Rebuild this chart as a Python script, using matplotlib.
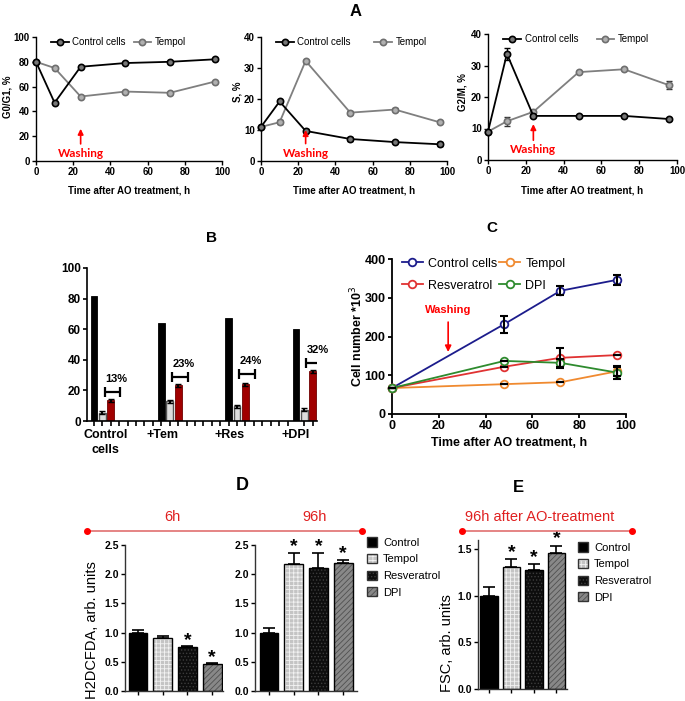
import numpy as np
import matplotlib
matplotlib.use("Agg")
import matplotlib.pyplot as plt
from matplotlib.patches import Patch

plt.rcParams['font.family'] = ['Liberation Sans', 'DejaVu Sans']
plt.rcParams['hatch.linewidth'] = 0.6

# ---------------- data ----------------
# A - cell cycle phases
t_a = [0, 10, 24, 48, 72, 96]
g1_ctrl = [80, 47, 76, 79, 80, 82]
g1_temp = [80, 75, 52, 56, 55, 64]
s_ctrl = [11, 19.2, 9.7, 7.1, 6.1, 5.4]
s_ctrl_err = [0, 0.5, 0.5, 0.7, 0.3, 0.6]
s_temp = [11, 12.5, 32.3, 15.6, 16.6, 12.5]
s_temp_err = [0, 0.6, 0.4, 0.4, 0.6, 0.3]
g2_ctrl = [9, 33.7, 14, 14, 14, 13]
g2_ctrl_err = [0, 1.8, 0.5, 0.3, 0.3, 0.3]
g2_temp = [9, 12.3, 15.3, 27.9, 28.8, 23.7]
g2_temp_err = [0, 1.5, 0.3, 0.3, 0.3, 1.3]

# B - bars per group
b_groups = ['Control\ncells', '+Tem', '+Res', '+DPI']
b_black = [82, 64, 67.5, 60]
b_gray = [5.5, 13, 9.5, 7.5]
b_red = [13.5, 23.5, 24, 32.5]
b_pct = ['13%', '23%', '24%', '32%']
b_bracket = [19, 29, 31, 38]

# C - cell number
t_c = [0, 48, 72, 96]
c_ctrl = [67, 232, 318, 346]
c_ctrl_err = [0, 22, 12, 12]
c_temp = [67, 77, 82, 110]
c_temp_err = [0, 0, 0, 12]
c_resv = [67, 122, 145, 152]
c_resv_err = [0, 0, 26, 0]
c_dpi = [67, 137, 132, 107]
c_dpi_err = [0, 0, 11, 17]

# D / E
treat = ['Control', 'Tempol', 'Resveratrol', 'DPI']
d6 = [1.0, 0.91, 0.76, 0.46]
d6_err = [0.04, 0.04, 0.01, 0.02]
d6_star = [False, False, True, True]
d96 = [1.0, 2.17, 2.1, 2.19]
d96_err = [0.08, 0.2, 0.27, 0.06]
d96_star = [False, True, True, True]
e96 = [1.0, 1.31, 1.28, 1.46]
e96_err = [0.1, 0.09, 0.06, 0.08]
e96_star = [False, True, True, True]

W, H = 685, 701
fig = plt.figure(figsize=(W / 100, H / 100), dpi=100)


def add_ax(l, t, r, b):
    return fig.add_axes([l / W, 1 - b / H, (r - l) / W, (b - t) / H])


def style(ax, size, lw=1.0):
    for s in ['top', 'right']:
        ax.spines[s].set_visible(False)
    for s in ['left', 'bottom']:
        ax.spines[s].set_linewidth(lw)
    ax.tick_params(labelsize=size, width=lw, length=3, pad=1.5)
    for lb in ax.get_xticklabels() + ax.get_yticklabels():
        lb.set_fontweight('bold')


# ================= A =================
a_specs = [
    ((36, 37, 222, 161), g1_ctrl, [0] * 6, g1_temp, [0] * 6, 100, 'G0/G1, %', (-0.129, 0.516), 0.8, 26, 6),
    ((261, 37, 447, 161), s_ctrl, s_ctrl_err, s_temp, s_temp_err, 40, 'S, %', (-0.102, 0.56), 2.4, 10, 2.5),
    ((488, 34, 677, 160), g2_ctrl, g2_ctrl_err, g2_temp, g2_temp_err, 40, 'G2/M, %', (-0.111, 0.54), 1.9, 11.4, 3.2),
]
for box, yc, yce, yt, yte, ymax, ylab, lc, cs, head, txt in a_specs:
    ax = add_ax(*box)
    ax.errorbar(t_a, yc, yerr=yce, fmt='none', capsize=2.5, ecolor='black', elinewidth=1,
                clip_on=False, zorder=2.5)
    ax.errorbar(t_a, yt, yerr=yte, fmt='none', capsize=2.5, ecolor='#333333', elinewidth=1,
                clip_on=False, zorder=2)
    ax.plot(t_a, yc, color='black', lw=1.3, marker='o', ms=4.5, mfc='#777777', mec='black',
            mew=1.2, clip_on=False, label='Control cells', zorder=3)
    ax.plot(t_a, yt, color='#7f7f7f', lw=1.3, marker='o', ms=4.5, mfc='#b0b0b0', mec='#6f6f6f',
            mew=1.2, clip_on=False, label='Tempol', zorder=2)
    ax.set_xlim(0, 100)
    ax.set_ylim(0, ymax)
    ax.set_xticks(range(0, 101, 20))
    ax.set_yticks(np.arange(0, ymax + 1, ymax / 5 if ymax == 100 else 10))
    style(ax, 7)
    ax.set_xlabel('Time after AO treatment, h', fontsize=7, fontweight='bold')
    ax.xaxis.set_label_coords(0.5, -0.2)
    ax.set_ylabel(ylab, fontsize=7, fontweight='bold')
    ax.yaxis.set_label_coords(*lc)
    ax.annotate('Washing', xy=(24, head), xytext=(24, txt), ha='center', va='center',
                color='red', fontsize=8.5, fontweight='bold', family='Lato',
                arrowprops=dict(arrowstyle='-|>', color='red', lw=1.2, shrinkA=1, shrinkB=0,
                                mutation_scale=8))
    ax.legend(loc='upper left', bbox_to_anchor=(0.06, 1.03), ncol=2, frameon=False, fontsize=7,
              handlelength=1.8, columnspacing=cs, handletextpad=0.4, borderaxespad=0)

# ================= B =================
axB = add_ax(87, 268, 317, 421)
gpos = np.arange(len(b_groups)) * 8
axB.bar(gpos, b_black, width=0.8, color='black', edgecolor='black', lw=0.6)
axB.bar(gpos + 1, b_gray, width=0.8, color='#dcdcdc', edgecolor='#555555', lw=1.0)
axB.bar(gpos + 2, b_red, width=0.8, color='#a00000', edgecolor='#700000', lw=0.6)
axB.errorbar(gpos + 1, b_gray, yerr=1, fmt='none', ecolor='black', capsize=2, elinewidth=1.5)
axB.errorbar(gpos + 2, b_red, yerr=1, fmt='none', ecolor='black', capsize=2, elinewidth=1.5)
axB.errorbar(gpos + 2.2, b_bracket, xerr=0.95, fmt='none', ecolor='black', capsize=3.5,
             elinewidth=1.6, capthick=1.6)
for g, p, yb in zip(gpos, b_pct, b_bracket):
    axB.text(g + 2.6, yb + 5, p, ha='center', va='bottom', fontsize=8, fontweight='bold')
axB.set_xlim(-0.83, 26.5)
axB.set_ylim(0, 100)
axB.set_yticks(range(0, 101, 20))
axB.set_xticks(np.arange(0, 27), minor=True)
axB.set_xticks([1.4, 8.1, 16.1, 24.0], b_groups)
style(axB, 8.5, lw=1.2)
axB.tick_params(axis='x', which='major', length=0, pad=6)
axB.tick_params(axis='x', which='minor', length=3.5, width=1.2)
for lb in axB.get_xticklabels():
    lb.set_fontsize(9)
    lb.set_linespacing(1.3)

# ================= C =================
axC = add_ax(392, 259, 626, 414)
c_series = [(c_ctrl, c_ctrl_err, '#1c1c8c', 'Control cells'),
            (c_temp, c_temp_err, '#f08a30', 'Tempol'),
            (c_resv, c_resv_err, '#e03232', 'Resveratrol'),
            (c_dpi, c_dpi_err, '#2e8b2e', 'DPI')]
c_lines = []
for vals, err, col, lab in c_series:
    axC.errorbar(t_c, vals, yerr=err, fmt='none', ecolor='black', elinewidth=1.5, capsize=3,
                 capthick=1.5, clip_on=False, zorder=4)
    ln, = axC.plot(t_c, vals, color=col, lw=1.3, marker='o', ms=5.5, mfc='white', mec=col,
                   mew=1.3, clip_on=False, label=lab, zorder=3)
    c_lines.append(ln)
axC.set_xlim(0, 100)
axC.set_ylim(0, 400)
axC.set_xticks(range(0, 101, 20))
axC.set_yticks(range(0, 401, 100))
style(axC, 9, lw=1.3)
axC.set_xlabel('Time after AO treatment, h', fontsize=9, fontweight='bold')
axC.xaxis.set_label_coords(0.5, -0.15)
axC.set_ylabel('Cell number *10$^3$', fontsize=9, fontweight='bold')
axC.yaxis.set_label_coords(-0.115, 0.5)
axC.annotate('Washing', xy=(24, 160), xytext=(24, 268), ha='center', va='center', color='red',
             fontsize=8, fontweight='bold',
             arrowprops=dict(arrowstyle='-|>', color='red', lw=1.2, shrinkA=3, shrinkB=0,
                             mutation_scale=9))
axC.legend([c_lines[0], c_lines[2], c_lines[1], c_lines[3]],
           [c_series[0][3], c_series[2][3], c_series[1][3], c_series[3][3]], loc='upper left',
           bbox_to_anchor=(0.02, 1.04), ncol=2, frameon=False, fontsize=9, handlelength=1.7,
           columnspacing=0.15, handletextpad=0.4, labelspacing=0.8, borderaxespad=0)

# ================= D / E =================
fills = [('black', 'black', None), ('#c4c4c4', '#f2f2f2', '++++'),
         ('#0d0d0d', '#3c3c3c', '.....'), ('#888888', '#505050', '//////')]


def bars(ax, vals, err, stars, star_off):
    x = np.arange(len(vals))
    for xi, v, (fc, hc, hatch) in zip(x, vals, fills):
        ax.bar(xi, v, width=0.76, color=fc, edgecolor=hc, hatch=hatch, lw=0)
        ax.bar(xi, v, width=0.76, fill=False, edgecolor='black', lw=1.0)
    ax.errorbar(x, vals, yerr=[np.zeros(len(vals)), err], fmt='none', ecolor='black',
                elinewidth=1.2, capsize=4, capthick=1.2)
    for xi, v, e, s in zip(x, vals, err, stars):
        if s:
            ax.text(xi, v + e + star_off, '*', ha='center', va='center', fontsize=14,
                    fontweight='bold')
    ax.set_xticks(x, [''] * len(x))
    for s in ['left', 'bottom']:
        ax.spines[s].set_color('#333333')


axD1 = add_ax(125, 545, 223, 691)
bars(axD1, d6, d6_err, d6_star, 0.1)
axD1.set_xlim(-0.53, 3.44)
axD1.set_ylim(0, 2.5)
axD1.set_yticks(np.arange(0, 2.51, 0.5))
style(axD1, 7.5)
axD1.set_ylabel('H2DCFDA, arb. units', fontsize=10.5)
axD1.yaxis.set_label_coords(-0.265, 0.42)

axD2 = add_ax(255, 545, 357, 691)
bars(axD2, d96, d96_err, d96_star, 0.1)
axD2.set_xlim(-0.57, 3.56)
axD2.set_ylim(0, 2.5)
axD2.set_yticks(np.arange(0, 2.51, 0.5))
style(axD2, 7.5)

axE = add_ax(478, 540, 567, 689)
bars(axE, e96, e96_err, e96_star, 0.07)
axE.set_xlim(-0.49, 3.47)
axE.set_ylim(0, 1.6)
axE.set_yticks(np.arange(0, 1.51, 0.5))
style(axE, 7.5)
axE.set_ylabel('FSC, arb. units', fontsize=10.5)
axE.yaxis.set_label_coords(-0.27, 0.31)

leg_handles = []
for fc, hc, hatch in fills:
    leg_handles.append((Patch(facecolor=fc, edgecolor=hc, hatch=hatch, lw=0),
                        Patch(fill=False, edgecolor='#333333', lw=1.0)))
for ax, (lx, ty) in [(axD2, (363, 533)), (axE, (574, 538))]:
    ax.legend(leg_handles, treat, loc='upper left', bbox_to_anchor=(lx / W, 1 - ty / H),
              bbox_transform=fig.transFigure, frameon=False, fontsize=8, handlelength=0.9,
              handleheight=0.9, handletextpad=0.5, labelspacing=0.55, borderaxespad=0)

# ---------------- overlay: letters and headers ----------------
ov = fig.add_axes([0, 0, 1, 1])
ov.set_xlim(0, W)
ov.set_ylim(H, 0)
ov.axis('off')
for letter, x, y, fs in [('A', 356, 12, 12), ('B', 212, 238, 11), ('C', 492, 228, 11),
                         ('D', 242, 485, 13), ('E', 518, 487, 12)]:
    ov.text(x, y, letter, ha='center', va='center', fontsize=fs, fontweight='bold')
for x0, x1 in [(87, 362), (462, 632)]:
    ov.plot([x0, x1], [531, 531], color='#e07070', lw=1.2)
    ov.plot([x0, x1], [531, 531], 'o', color='red', ms=4)
for txt, x in [('6h', 172), ('96h', 315), ('96h after AO-treatment', 540)]:
    ov.text(x, 517, txt, ha='center', va='center', fontsize=10.5, color='#e02020')

fig.savefig('out.png', dpi=100)
